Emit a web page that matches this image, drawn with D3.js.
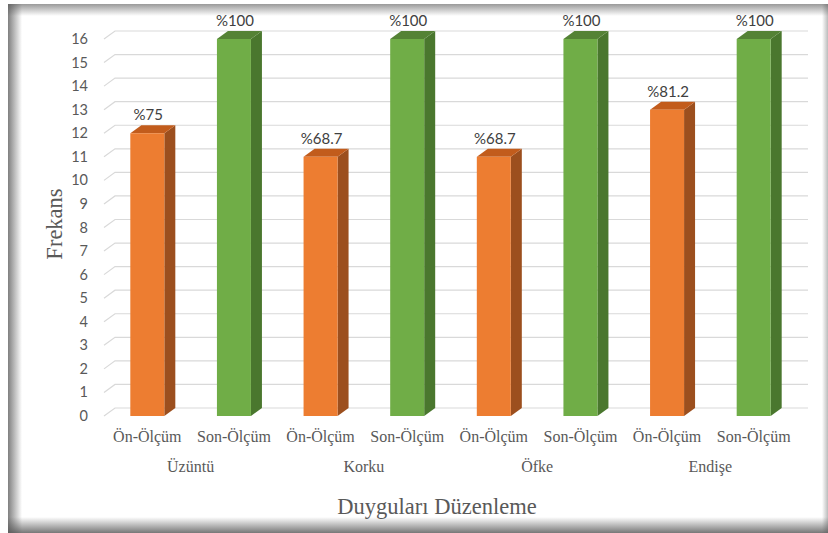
<!DOCTYPE html>
<html>
<head>
<meta charset="utf-8">
<script src="https://cdn.jsdelivr.net/npm/d3@7"></script>
<style>
  body { margin: 0; background: #fff; }
  svg { display: block; }
  .serif { font-family: "Liberation Serif", "Times New Roman", Tinos, "DejaVu Serif", serif; }
</style>
</head>
<body>
<main></main>
<script>
const categories = ["Üzüntü", "Korku", "Öfke", "Endişe"];
const series = ["Ön-Ölçüm", "Son-Ölçüm"];
const onValues = [12, 11, 11, 13];
const sonValues = [16, 16, 16, 16];
const onLabels = ["%75", "%68.7", "%68.7", "%81.2"];
const sonLabels = ["%100", "%100", "%100", "%100"];
const yTicks = d3.range(0, 17);

const w = 828;
const h = 533;
const depthX = 11;
const depthY = -8;

const colors = {
  "Ön-Ölçüm": { front: "#ED7D31", side: "#9C4F1E", top: "#C25C1C" },
  "Son-Ölçüm": { front: "#70AD47", side: "#4A772E", top: "#548235" }
};

const svg = d3.select("main")
  .append("svg")
  .attr("width", w)
  .attr("height", h);

svg.append("rect").attr("width", w).attr("height", h).attr("fill", "#fff");

const x0 = d3.scaleBand().domain(categories).range([104, 797]);
const x1 = d3.scaleBand().domain(series).range([0, x0.bandwidth()]);
const y = d3.scaleLinear().domain([0, 16]).range([416, 39]);
const barW = 34;

// gridlines with 3d wall slant
svg.append("g")
  .selectAll("path")
  .data(yTicks)
  .enter()
  .append("path")
  .attr("fill", "none")
  .attr("stroke", "#d9d9d9")
  .attr("stroke-width", 1.2)
  .attr("d", t => `M104,${y(t)}L${104 + depthX},${y(t) + depthY}L${797 + depthX},${y(t) + depthY}`);

// y tick labels
svg.append("g")
  .selectAll("text")
  .data(yTicks)
  .enter()
  .append("text")
  .attr("x", 88)
  .attr("y", t => y(t) + 5)
  .attr("text-anchor", "end")
  .attr("font-family", "Lato, sans-serif")
  .attr("font-size", 14.5)
  .attr("fill", "#595959")
  .text(t => t);

const bars = [];
categories.forEach((c, i) => {
  bars.push({ cat: c, s: series[0], v: onValues[i], label: onLabels[i] });
  bars.push({ cat: c, s: series[1], v: sonValues[i], label: sonLabels[i] });
});

const g = svg.append("g");
bars.forEach(d => {
  const cx = x0(d.cat) + x1(d.s) + x1.bandwidth() / 2;
  const xl = cx - barW / 2;
  const xr = cx + barW / 2;
  const yt = y(d.v);
  const yb = y(0);
  const col = colors[d.s];
  g.append("path")
    .attr("fill", col.side)
    .attr("d", `M${xr},${yt}L${xr + depthX},${yt + depthY}L${xr + depthX},${yb + depthY}L${xr},${yb}Z`);
  g.append("path")
    .attr("fill", col.top)
    .attr("d", `M${xl},${yt}L${xl + depthX},${yt + depthY}L${xr + depthX},${yt + depthY}L${xr},${yt}Z`);
  g.append("rect")
    .attr("x", xl)
    .attr("y", yt)
    .attr("width", barW)
    .attr("height", yb - yt)
    .attr("fill", col.front);
  g.append("text")
    .attr("x", cx + 1)
    .attr("y", yt + depthY - 5)
    .attr("text-anchor", "middle")
    .attr("font-family", "Lato, sans-serif")
    .attr("font-size", 15)
    .attr("fill", "#404040")
    .text(d.label);
});

// x tick labels
const xt = svg.append("g")
  .attr("class", "serif")
  .attr("fill", "#595959");
bars.forEach(d => {
  xt.append("text")
    .attr("x", x0(d.cat) + x1(d.s) + x1.bandwidth() / 2)
    .attr("y", 442)
    .attr("text-anchor", "middle")
    .attr("font-size", 16)
    .text(d.s);
});
categories.forEach(c => {
  xt.append("text")
    .attr("x", x0(c) + x0.bandwidth() / 2)
    .attr("y", 472)
    .attr("text-anchor", "middle")
    .attr("font-size", 16)
    .text(c);
});

svg.append("text")
  .attr("class", "serif")
  .attr("x", 437)
  .attr("y", 514)
  .attr("text-anchor", "middle")
  .attr("font-size", 22.5)
  .attr("fill", "#595959")
  .text("Duyguları Düzenleme");

svg.append("text")
  .attr("class", "serif")
  .attr("transform", "translate(62,224) rotate(-90)")
  .attr("text-anchor", "middle")
  .attr("font-size", 22.5)
  .attr("fill", "#595959")
  .text("Frekans");

// inner shadow frame
const defs = svg.append("defs");
function grad(id, x1g, y1g, x2g, y2g, op) {
  const lg = defs.append("linearGradient").attr("id", id)
    .attr("x1", x1g).attr("y1", y1g).attr("x2", x2g).attr("y2", y2g);
  lg.append("stop").attr("offset", "0%").attr("stop-color", "#555").attr("stop-opacity", op);
  lg.append("stop").attr("offset", "100%").attr("stop-color", "#555").attr("stop-opacity", 0);
}
grad("gl", 0, 0, 1, 0, 0.75);
grad("gt", 0, 0, 0, 1, 0.6);
grad("gb", 0, 1, 0, 0, 0.8);
grad("gr", 1, 0, 0, 0, 0.4);
svg.append("rect").attr("x", 8).attr("y", 4).attr("width", 14).attr("height", h - 4).attr("fill", "url(#gl)");
svg.append("rect").attr("x", 8).attr("y", 4).attr("width", w - 8).attr("height", 12).attr("fill", "url(#gt)");
svg.append("rect").attr("x", 8).attr("y", h - 16).attr("width", w - 8).attr("height", 16).attr("fill", "url(#gb)");
svg.append("rect").attr("x", w - 6).attr("y", 4).attr("width", 6).attr("height", h - 4).attr("fill", "url(#gr)");
</script>
</body>
</html>
